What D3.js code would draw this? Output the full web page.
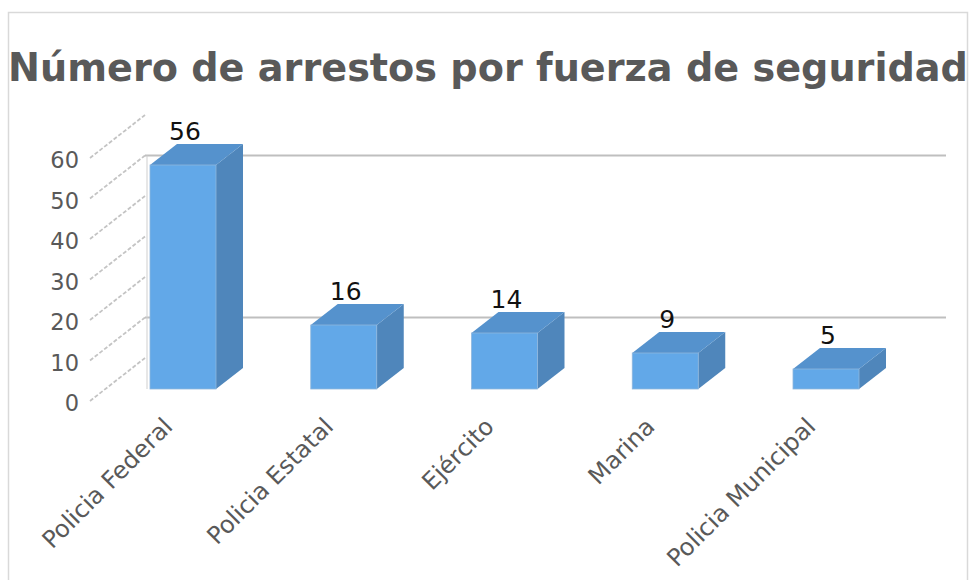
<!DOCTYPE html>
<html><head><meta charset="utf-8">
<script src="https://cdn.jsdelivr.net/npm/d3@7"></script>
<style>body{margin:0;background:#fff}svg{display:block;font-family:"DejaVu Sans",sans-serif}</style>
</head><body>
<script>
const title = "Número de arrestos por fuerza de seguridad";
const categories = ["Policia Federal","Policia Estatal","Ejército","Marina","Policia Municipal"];
const values = [56,16,14,9,5];
const yTicks = [0,10,20,30,40,50,60];
const gridTicks = [10,50];

const W=971,H=580;
const svg=d3.select("body").append("svg").attr("width",W).attr("height",H);
svg.append("rect").attr("x",8.5).attr("y",12.5).attr("width",959).attr("height",620)
  .attr("fill","#fff").attr("stroke","#d9d9d9").attr("stroke-width",1.5);

// title
const t=svg.append("text").attr("x",488).attr("y",81).attr("text-anchor","middle")
  .attr("font-weight","bold").attr("fill","#595959").attr("font-size",38).text(title);
const tl=t.node().getComputedTextLength();
t.attr("font-size",38*960/tl);

const x=d3.scalePoint().domain(categories).range([183,826]);
const yLab=d3.scaleLinear().domain([0,60]).range([403,160]);
const yBar=d3.scaleLinear().domain([0,60]).range([389,149]);
const bw=66, dx=27, dy=-21;

// y labels
svg.append("g").selectAll("text").data(yTicks).join("text")
  .attr("x",79).attr("y",d=>yLab(d)).attr("dy","0.36em").attr("text-anchor","end")
  .attr("font-size",22.5).attr("fill","#595959").text(d=>d);
// diagonals
svg.append("g").selectAll("line").data(yTicks).join("line")
  .attr("x1",90).attr("y1",d=>yLab(d)-2).attr("x2",145).attr("y2",d=>yLab(d)-45)
  .attr("stroke","#c4c4c4").attr("stroke-width",1.8).attr("stroke-dasharray","4,2");
// gridlines
svg.append("g").selectAll("line").data(gridTicks).join("line")
  .attr("x1",145).attr("x2",946).attr("y1",d=>yLab(d)-45).attr("y2",d=>yLab(d)-45)
  .attr("stroke","#bfbfbf").attr("stroke-width",2);
// vertical edge
svg.append("line").attr("x1",147).attr("x2",147).attr("y1",yLab(50)-45).attr("y2",yBar(0))
  .attr("stroke","#cfcfcf").attr("stroke-width",1);

const data=categories.map((c,i)=>({c,v:values[i]}));
const g=svg.append("g").selectAll("g").data(data).join("g");
// side
g.append("path").attr("fill","#4f86bb").attr("d",d=>{
  const xr=x(d.c)+bw/2, yt=yBar(d.v), yb=yBar(0);
  return `M${xr},${yt}L${xr+dx},${yt+dy}L${xr+dx},${yb+dy}L${xr},${yb}Z`;});
// top
g.append("path").attr("fill","#5592cd").attr("d",d=>{
  const xl=x(d.c)-bw/2, xr=x(d.c)+bw/2, yt=yBar(d.v);
  return `M${xl},${yt}L${xl+dx},${yt+dy}L${xr+dx},${yt+dy}L${xr},${yt}Z`;});
// front
g.append("rect").attr("fill","#62a8e8").attr("stroke","#8fb6dc").attr("stroke-width",0.8)
  .attr("x",d=>x(d.c)-bw/2).attr("y",d=>yBar(d.v)).attr("width",bw).attr("height",d=>yBar(0)-yBar(d.v));
// value labels
g.append("text").attr("x",d=>x(d.c)+2).attr("y",d=>yBar(d.v)+dy-4).attr("text-anchor","middle")
  .attr("font-size",25).attr("fill","#111").text(d=>d.v);

// x labels
svg.append("g").selectAll("text").data(categories).join("text")
  .attr("transform",d=>`translate(${x(d)-9},428) rotate(-45)`).attr("text-anchor","end")
  .attr("font-size",24).attr("fill","#595959").text(d=>d);
</script>
</body></html>
